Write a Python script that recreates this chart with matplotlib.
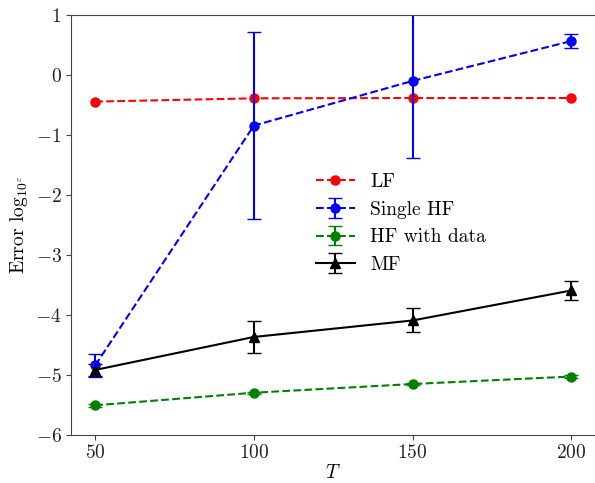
import matplotlib
matplotlib.use('Agg')
import matplotlib.pyplot as plt
import numpy as np

plt.rcParams['font.family'] = 'serif'
plt.rcParams['font.serif'] = ['cmr10']
plt.rcParams['mathtext.fontset'] = 'cm'
plt.rcParams['axes.formatter.use_mathtext'] = True
plt.rcParams['font.size'] = 14

T = [50, 100, 150, 200]
lf = [-0.445, -0.39, -0.385, -0.385]
single_hf = [-4.845, -0.845, -0.10, 0.565]
single_hf_err = [0.19, 1.565, 1.28, 0.11]
hf_data = [-5.51, -5.30, -5.155, -5.03]
hf_data_err = [0.02, 0.02, 0.02, 0.02]
mf = [-4.92, -4.37, -4.095, -3.595]
mf_err = [0.1, 0.27, 0.2, 0.16]

fig, ax = plt.subplots(figsize=(5.95, 4.83), dpi=100)
fig.subplots_adjust(left=0.12, right=1.0, top=0.969, bottom=0.10)

ax.plot(T, lf, 'o--', color='red', lw=1.5, ms=6.5, label='LF')
ax.errorbar(T, single_hf, yerr=single_hf_err, fmt='o--', color='blue',
            lw=1.5, ms=6.5, capsize=5, label='Single HF')
ax.errorbar(T, hf_data, yerr=hf_data_err, fmt='o--', color='green',
            lw=1.5, ms=6.5, capsize=5, label='HF with data')
ax.errorbar(T, mf, yerr=mf_err, fmt='^-', color='black',
            lw=1.5, ms=6.5, capsize=5, label='MF')

ax.set_xlim(42.5, 207.5)
ax.set_ylim(-6, 1)
ax.set_xticks([50, 100, 150, 200])
ax.set_yticks(range(-6, 2))
ax.set_xlabel('$T$', labelpad=1)
ax.set_ylabel(r'Error $\log_{10^{\varepsilon}}$')
for s in ax.spines.values():
    s.set_color('#444444')
ax.spines['right'].set_visible(False)
ax.tick_params(colors='#444444', labelcolor='#222222')

ax.legend(frameon=False, loc='upper left', bbox_to_anchor=(0.433, 0.665))

fig.savefig('out.png')
